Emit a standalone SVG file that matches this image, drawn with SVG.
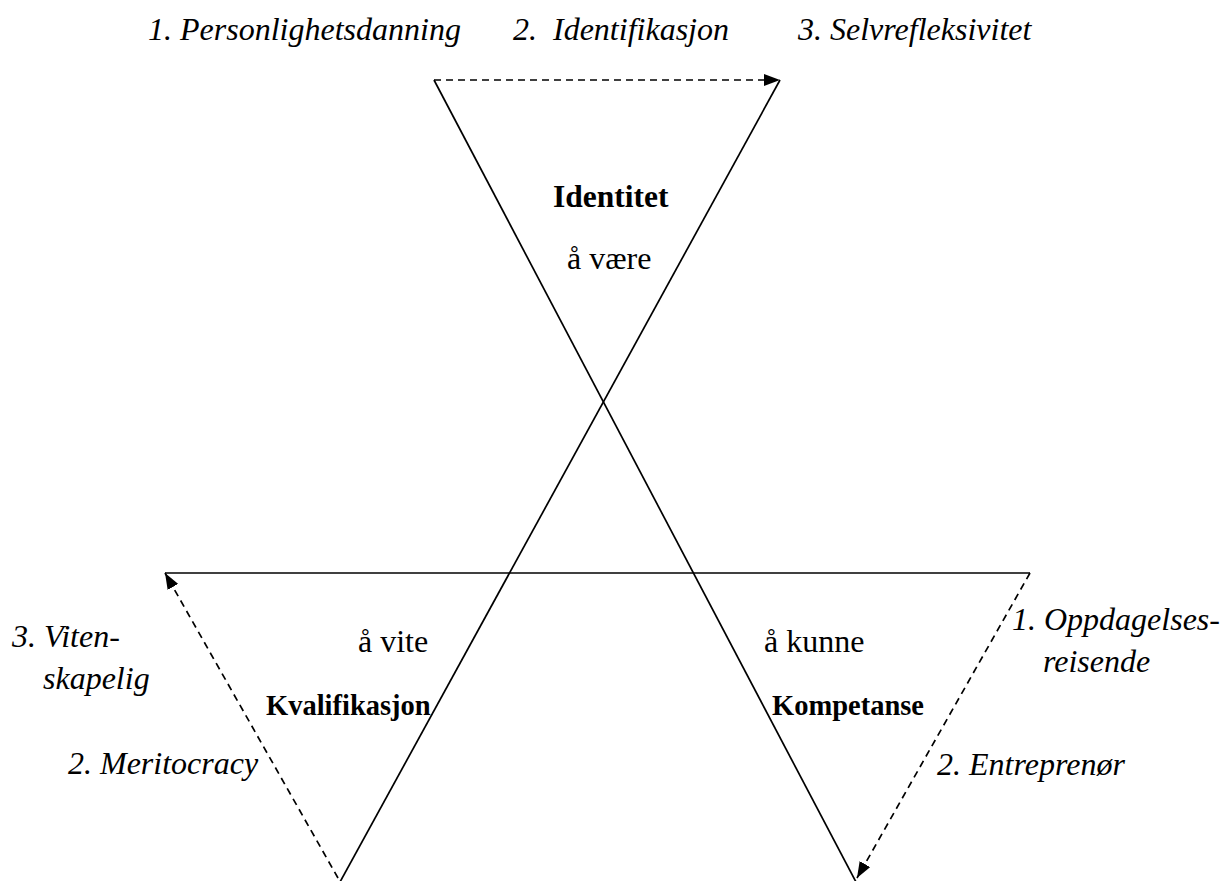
<svg xmlns="http://www.w3.org/2000/svg" width="1221" height="881" viewBox="0 0 1221 881">
<style>
.s{stroke:#000;stroke-width:1.7;fill:none}
.d{stroke:#000;stroke-width:1.7;fill:none;stroke-dasharray:7,5}
text{fill:#000}
.it{font-family:"Liberation Serif","Times New Roman",serif;font-style:italic;font-size:32px}
.rg{font-family:"Liberation Serif","Times New Roman",serif;font-size:32px}
.bd{font-family:"Liberation Serif","Times New Roman",serif;font-weight:bold;font-size:28.5px}
.big{font-size:31.5px}
</style>
<defs>
<marker id="ah2" viewBox="0 0 16 12" refX="16" refY="6" markerWidth="16" markerHeight="12" markerUnits="userSpaceOnUse" orient="auto"><path d="M0,0 L16,6 L0,12 Z" fill="#000"/></marker>
</defs>
<g id="connectors">
<line class="s" x1="434" y1="80" x2="856" y2="882"/>
<line class="s" x1="780" y1="80" x2="340" y2="882"/>
<line class="s" x1="165" y1="573" x2="1030" y2="573"/>
<line class="d" x1="434" y1="80" x2="780" y2="80" marker-end="url(#ah2)"/>
<line class="d" x1="338" y1="878" x2="165" y2="573" marker-end="url(#ah2)"/>
<line class="d" x1="1030" y1="573" x2="857" y2="878" marker-end="url(#ah2)"/>
</g>
<g id="identitet">
<text class="bd big" x="553" y="207">Identitet</text>
<text class="rg" x="567" y="269">å være</text>
</g>
<g id="kvalifikasjon">
<text class="rg" x="358" y="652">å vite</text>
<text class="bd" x="266" y="715">Kvalifikasjon</text>
</g>
<g id="kompetanse">
<text class="rg" x="764" y="652">å kunne</text>
<text class="bd" x="772" y="715">Kompetanse</text>
</g>
<g id="top-labels">
<text class="it" x="148" y="40">1. Personlighetsdanning</text>
<text class="it" x="513" y="40" xml:space="preserve">2.  Identifikasjon</text>
<text class="it" x="798" y="40">3. Selvrefleksivitet</text>
</g>
<g id="left-labels">
<text class="it" x="12" y="647">3. Viten-</text>
<text class="it" x="43" y="689">skapelig</text>
<text class="it" x="68" y="774">2. Meritocracy</text>
</g>
<g id="right-labels">
<text class="it" x="1012" y="630">1. Oppdagelses-</text>
<text class="it" x="1043" y="672">reisende</text>
<text class="it" x="937" y="775">2. Entreprenør</text>
</g>
</svg>
